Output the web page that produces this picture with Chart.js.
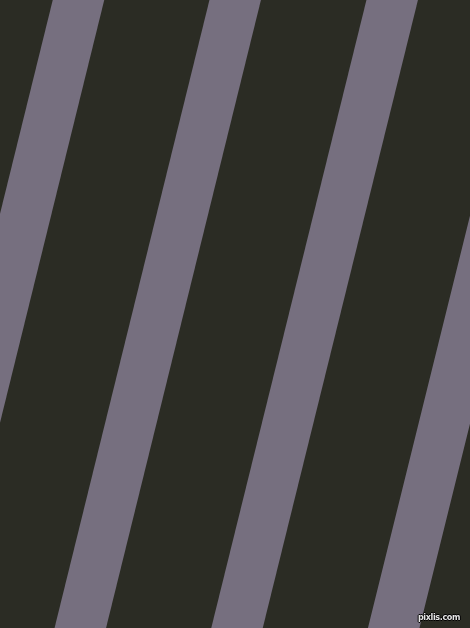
<!DOCTYPE html>
<html>
<head>
<meta charset="utf-8">
<script src="https://cdn.jsdelivr.net/npm/chart.js@4.4.0/dist/chart.umd.min.js"></script>
<style>
  html, body { margin: 0; padding: 0; background: #2b2c24; overflow: hidden; }
  #wrap { position: relative; width: 470px; height: 628px; }
  #mark {
    position: absolute; right: 10px; top: 612px; white-space: nowrap;
    font: bold 9px 'DejaVu Sans Condensed', 'DejaVu Sans', sans-serif; letter-spacing: -0.4px;
    color: #e6e6e6;
    text-shadow: -1px 0 #000, 1px 0 #000, 0 -1px #000, 0 1px #000;
  }
</style>
</head>
<body>
<div id="wrap">
  <canvas id="c" width="470" height="628"></canvas>
  <div id="mark">pixlis.com</div>
</div>
<script>
// stripe centre x at the top (y = 0) and bottom (y = 628) edges
const topX    = [78.5, 235.2, 392.2, 549.2]
const bottomX = [-76.4, 80.3, 237.0, 393.7]
const edgeY   = [0, 628]

const BG = '#2b2c24'
const STRIPE = '#766f7f'

const datasets = topX.map((x, i) => ({
  data: [{ x: x, y: edgeY[0] }, { x: bottomX[i], y: edgeY[1] }],
  showLine: true,
  borderColor: STRIPE,
  borderWidth: 50,
  borderCapStyle: 'square',
  pointRadius: 0,
  fill: false,
}))

new Chart(document.getElementById('c'), {
  type: 'scatter',
  data: { datasets },
  options: {
    responsive: false,
    animation: false,
    devicePixelRatio: 1,
    layout: { padding: 0 },
    plugins: { legend: { display: false }, tooltip: { enabled: false } },
    scales: {
      x: { type: 'linear', min: 0, max: 470, display: false },
      y: { type: 'linear', min: 0, max: 628, reverse: true, display: false },
    }
  },
  plugins: [{
    id: 'bg',
    beforeDraw(chart) {
      const ctx = chart.ctx
      ctx.save()
      ctx.fillStyle = BG
      ctx.fillRect(0, 0, chart.width, chart.height)
      ctx.restore()
    }
  }]
})
</script>
</body>
</html>
